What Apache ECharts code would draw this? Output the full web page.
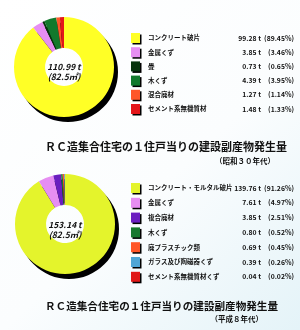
<!DOCTYPE html>
<html><head><meta charset="utf-8">
<script src="https://cdn.jsdelivr.net/npm/echarts@6/dist/echarts.min.js"></script>
<style>html,body{margin:0;padding:0;}#c{width:300px;height:330px;}</style>
</head><body><div id="c"></div>
<script>
// Chart 1 (昭和30年代)
const names1 = ['コンクリート破片','金属くず','畳','木くず','混合廃材','セメント系無機質材'];
const tons1 = [99.28, 3.85, 0.73, 4.39, 1.27, 1.48];
const pcts1 = ['89.45','3.46','0.65','3.95','1.14','1.33'];
const colors1 = ['#ffff26','#e68ef2','#06330c','#12792c','#ff5628','#e4161a'];
const total1 = '110.99 t';
const area1 = '(82.5㎡)';
const title1 = 'ＲＣ造集合住宅の１住戸当りの建設副産物発生量';
const sub1 = '（昭和３０年代）';

// Chart 2 (平成8年代)
const names2 = ['コンクリート・モルタル破片','金属くず ','複合廃材','木くず ','廃プラスチック類','ガラス及び陶磁器くず','セメント系無機質材くず'];
const tons2 = [139.76, 7.61, 3.85, 0.80, 0.69, 0.39, 0.04];
const pcts2 = ['91.26','4.97','2.51','0.52','0.45','0.26','0.02'];
const colors2 = ['#e4f42c','#e68ef2','#6a1ec0','#17782e','#ff5628','#4fa6d6','#e01818'];
const total2 = '153.14 t';
const area2 = '(82.5㎡)';
const title2 = 'ＲＣ造集合住宅の１住戸当りの建設副産物発生量';
const sub2 = '（平成８年代）';

const FONT = '"Noto Sans CJK JP", "Noto Sans", sans-serif';
const chart = echarts.init(document.getElementById('c'), null, {renderer:'canvas'});

function pieData(names, vals, cols){
  return names.map((n,i)=>({name:n, value:vals[i], itemStyle:{color:cols[i]}}));
}
function legendFor(names, tons, pcts, top, gap){
  const map = {};
  names.forEach((n,i)=>map[n]=i);
  return {
    orient:'vertical', left:126, top:top, itemWidth:9, itemHeight:10, itemGap:gap,
    icon:'rect', selectedMode:false, data:names,
    itemStyle:{borderWidth:0, shadowColor:'#000', shadowBlur:0.1, shadowOffsetX:1.5, shadowOffsetY:1.5},
    formatter: n => { const i = map[n]; return '{a|'+n.trim()+'}{b|'+tons[i].toFixed(2)+' t}{c|('+pcts[i]+'%)}'; },
    textStyle:{
      fontFamily:FONT, fontSize:6.5, fontWeight:'bold', color:'#111', lineHeight:10,
      rich:{
        a:{fontFamily:FONT, fontSize:6.5, fontWeight:'bold', color:'#111', width:86, padding:[0,0,0,3]},
        b:{fontFamily:FONT, fontSize:6.8, fontWeight:'bold', color:'#111', width:27, align:'right'},
        c:{fontFamily:FONT, fontSize:6.8, fontWeight:'bold', color:'#111', width:33, align:'right'}
      }
    }
  };
}

const C1 = [64, 67], C2 = [65, 224], R = 50, RI = 19;

function centerText(c, dy, txt){
  return {type:'text', x:c[0], y:c[1]+dy, z:10,
    style:{text:txt, align:'center', verticalAlign:'middle', font:'italic bold 8.5px '+FONT, fill:'#111'}};
}

chart.setOption({
  animation:false,
  backgroundColor:{type:'linear', x:0, y:0, x2:1, y2:1, colorStops:[
    {offset:0, color:'#ffffff'},{offset:0.55, color:'#fbfdfe'},{offset:1, color:'#e4f3f8'}]},
  title:[
    {text:title1, left:40, top:136, textStyle:{fontFamily:FONT, fontSize:11, fontWeight:'bold', color:'#111'}},
    {text:sub1, right:20, top:152, textStyle:{fontFamily:FONT, fontSize:7.5, fontWeight:'bold', color:'#111'}},
    {text:title2, left:40, top:296, textStyle:{fontFamily:FONT, fontSize:10.6, fontWeight:'bold', color:'#111'}},
    {text:sub2, right:32, top:310, textStyle:{fontFamily:FONT, fontSize:7.5, fontWeight:'bold', color:'#111'}}
  ],
  legend:[
    legendFor(names1, tons1, pcts1, 28, 4.2),
    legendFor(names2, tons2, pcts2, 178, 4.8)
  ],
  graphic:[
    centerText(C1, 0, total1),
    centerText(C1, 10, area1),
    centerText(C2, 1, total2),
    centerText(C2, 11, area2)
  ],
  series:[
    {type:'pie', silent:true, center:[C1[0]+4, C1[1]+5], radius:[RI+7, R], label:{show:false}, labelLine:{show:false},
     data:[{name:'s1', value:1, itemStyle:{color:'#000'}}], z:1},
    {type:'pie', silent:true, center:C1, radius:[RI, R], startAngle:90, clockwise:true, label:{show:false}, labelLine:{show:false},
     data:pieData(names1, tons1, colors1), z:2},
    {type:'pie', silent:true, center:[C2[0]+4, C2[1]+5], radius:[RI+7, R], label:{show:false}, labelLine:{show:false},
     data:[{name:'s2', value:1, itemStyle:{color:'#000'}}], z:1},
    {type:'pie', silent:true, center:C2, radius:[RI, R], startAngle:90, clockwise:true, label:{show:false}, labelLine:{show:false},
     data:pieData(names2, tons2, colors2), z:2}
  ]
});
</script></body></html>
